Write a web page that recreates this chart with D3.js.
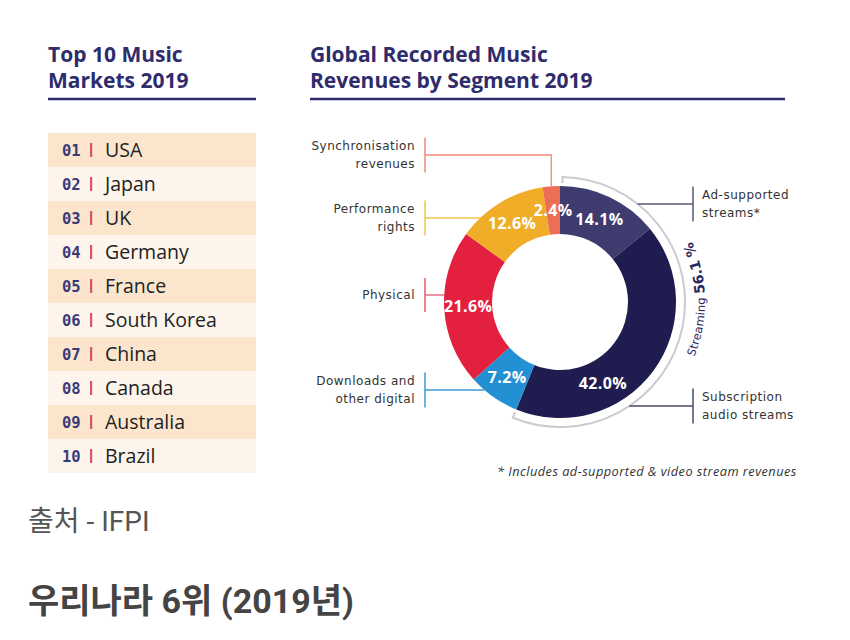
<!DOCTYPE html>
<html>
<head>
<meta charset="utf-8">
<script src="https://cdn.jsdelivr.net/npm/d3@7/dist/d3.min.js"></script>
<style>
  html, body { margin: 0; padding: 0; background: #fff; }
  svg { display: block; }
</style>
</head>
<body>
<svg id="chart" width="850" height="640"></svg>
<script>
// ---------------- DATA ----------------
const leftTitle = ["Top 10 Music", "Markets 2019"];
const rightTitle = ["Global Recorded Music", "Revenues by Segment 2019"];
const ranks = ["01", "02", "03", "04", "05", "06", "07", "08", "09", "10"];
const countries = ["USA", "Japan", "UK", "Germany", "France", "South Korea", "China", "Canada", "Australia", "Brazil"];
const segments = ["Ad-supported streams*", "Subscription audio streams", "Downloads and other digital", "Physical", "Performance rights", "Synchronisation revenues"];
const segmentLines = [["Ad-supported", "streams*"], ["Subscription", "audio streams"], ["Downloads and", "other digital"], ["Physical"], ["Performance", "rights"], ["Synchronisation", "revenues"]];
const shares = [14.1, 42.0, 7.2, 21.6, 12.6, 2.4];
const streamingLabel = "Streaming";
const streamingTotal = 56.1;
const footnote = "* Includes ad-supported & video stream revenues";
const sourceText = "출처 - IFPI";
const captionText = "우리나라 6위 (2019년)";

// ---------------- STYLE / LAYOUT ----------------
const navy = "#2e2c6c";
const sliceColors = ["#3e3b6f", "#1f1c50", "#2390d4", "#e3213f", "#f0ad28", "#ec6f55"];
const leaderColors = ["#5a5878", "#4a4868", "#3a98d6", "#e05a6c", "#f2c552", "#ef8a75"];
const svg = d3.select("#chart");

// Titles
function title(lines, x, x2) {
  const t = svg.append("text").attr("x", x).attr("y", 62)
    .attr("font-family", "'Open Sans', sans-serif").attr("font-weight", 700)
    .attr("font-size", 21).attr("fill", navy);
  lines.forEach((l, i) => t.append("tspan").attr("x", x).attr("y", 62 + i * 26).text(l));
  svg.append("line").attr("x1", x).attr("x2", x2).attr("y1", 99).attr("y2", 99)
    .attr("stroke", navy).attr("stroke-width", 2.5);
}
title(leftTitle, 48, 256);
title(rightTitle, 310, 785);

// ---------------- TABLE ----------------
const rowY = d3.scaleBand().domain(ranks).range([133, 473]);
const rows = svg.append("g").selectAll("g").data(ranks).join("g")
  .attr("transform", d => `translate(0,${rowY(d)})`);
rows.append("rect").attr("x", 48).attr("width", 208).attr("height", rowY.bandwidth())
  .attr("fill", (d, i) => i % 2 === 0 ? "#fbe6cd" : "#fdf5eb");
rows.append("text").attr("x", 62).attr("y", rowY.bandwidth() / 2 + 5.5)
  .attr("font-family", "'DejaVu Sans Mono', monospace").attr("font-weight", 700)
  .attr("font-size", 15.5).attr("fill", "#3b3a78").text(d => d);
rows.append("rect").attr("x", 90).attr("width", 2.2).attr("y", rowY.bandwidth() / 2 - 7)
  .attr("height", 14).attr("fill", "#d5566a");
rows.append("text").attr("x", 105).attr("y", rowY.bandwidth() / 2 + 7)
  .attr("font-family", "'Open Sans', sans-serif").attr("font-size", 19.5)
  .attr("fill", "#222").text((d, i) => countries[i]);

// ---------------- DONUT ----------------
const cx = 560, cy = 302, R = 116, r0 = 68;
const g = svg.append("g").attr("transform", `translate(${cx},${cy})`);
const pie = d3.pie().sort(null).value(d => d).startAngle(0).endAngle(2 * Math.PI);
const arcs = pie(shares);
const arc = d3.arc().innerRadius(r0).outerRadius(R);
g.selectAll("path.slice").data(arcs).join("path").attr("class", "slice")
  .attr("d", arc).attr("fill", (d, i) => sliceColors[i]);

// percent labels
const labelFrac = [0.5, 0.67, 0.5, 0.5, 0.5, 0.5];
const rMid = (R + r0) / 2;
g.selectAll("text.pct").data(arcs).join("text").attr("class", "pct")
  .attr("x", (d, i) => rMid * Math.sin(d.startAngle + (d.endAngle - d.startAngle) * labelFrac[i]))
  .attr("y", (d, i) => -rMid * Math.cos(d.startAngle + (d.endAngle - d.startAngle) * labelFrac[i]))
  .attr("dy", "0.35em").attr("text-anchor", "middle")
  .attr("font-family", "'Open Sans', sans-serif").attr("font-weight", 700)
  .attr("font-size", 16).attr("letter-spacing", 0.4).attr("fill", "#fff")
  .text((d, i) => d3.format(".1f")(shares[i]) + "%");

// streaming bracket arc
const rG = 125;
const a0 = arcs[0].startAngle + 0.02, a1 = arcs[1].endAngle;
const pt = (rad, a) => [rad * Math.sin(a), -rad * Math.cos(a)];
const bp = d3.path();
bp.moveTo(...pt(rG - 6, a0));
bp.lineTo(...pt(rG, a0));
bp.arc(0, 0, rG, a0 - Math.PI / 2, a1 - Math.PI / 2, false);
bp.lineTo(...pt(rG - 6, a1));
g.append("path").attr("d", bp.toString()).attr("fill", "none")
  .attr("stroke", "#cbcbd0").attr("stroke-width", 2);

// streaming text along arc (reads bottom to top)
const rT = 145;
const tp = d3.path();
tp.moveTo(...pt(rT, Math.PI / 2 + 1.0));
tp.arc(0, 0, rT, Math.PI / 2 + 1.0 - Math.PI / 2, Math.PI / 2 - 1.0 - Math.PI / 2, true);
g.append("path").attr("id", "streamPath").attr("d", tp.toString()).attr("fill", "none");
const st = g.append("text").attr("font-family", "'DejaVu Sans', sans-serif").attr("fill", "#2a2860");
const stp = st.append("textPath").attr("href", "#streamPath").attr("startOffset", "51%")
  .attr("text-anchor", "middle");
stp.append("tspan").attr("font-size", 11.5).attr("letter-spacing", 0.2).text(streamingLabel + " ");
stp.append("tspan").attr("font-size", 14).attr("font-weight", 700).text(d3.format(".1f")(streamingTotal) + " %");

// ---------------- LEADERS ----------------
const leaderY = [204, 406, 390, 295, 218, 155];
const side = [1, 1, -1, -1, -1, -1];
const labelFont = "'DejaVu Sans', sans-serif";
arcs.forEach((d, i) => {
  const y = leaderY[i] - cy;
  const col = leaderColors[i];
  const barX = side[i] > 0 ? 693 - cx : 425 - cx;
  let path;
  if (i === 5) {
    const mid = (d.startAngle + d.endAngle) / 2;
    const [ex, ey] = pt(R, mid);
    path = `M${barX},${y}H${ex}V${ey}`;
  } else if (side[i] > 0) {
    const ex = Math.sqrt(rG * rG - y * y);
    path = `M${barX},${y}H${ex}`;
  } else {
    const ex = -Math.sqrt(R * R - y * y);
    path = `M${barX},${y}H${ex}`;
  }
  g.append("path").attr("d", path).attr("fill", "none").attr("stroke", col).attr("stroke-width", 1.3);
  const n = segmentLines[i].length;
  const h = n === 1 ? 34 : 35;
  g.append("line").attr("x1", barX).attr("x2", barX).attr("y1", y - h / 2).attr("y2", y + h / 2)
    .attr("stroke", col).attr("stroke-width", 1.5);
  const tx = side[i] > 0 ? barX + 9 : barX - 10;
  const t = g.append("text").attr("font-family", labelFont).attr("font-size", 12)
    .attr("letter-spacing", 0.5).attr("fill", "#333")
    .attr("text-anchor", side[i] > 0 ? "start" : "end");
  segmentLines[i].forEach((l, k) => {
    t.append("tspan").attr("x", tx).attr("y", y + (k - (n - 1) / 2) * 17.5).attr("dy", "0.35em").text(l);
  });
});

// footnote
svg.append("text").attr("x", 497).attr("y", 476)
  .attr("font-family", "'Open Sans', sans-serif").attr("font-style", "italic")
  .attr("font-size", 12.8).attr("letter-spacing", 0.45).attr("fill", "#333").text(footnote);

// Korean captions
svg.append("text").attr("x", 28).attr("y", 531)
  .attr("font-family", "Roboto, 'Noto Sans CJK KR', sans-serif").attr("font-size", 28)
  .attr("fill", "#555").text(sourceText);
svg.append("text").attr("x", 28).attr("y", 613)
  .attr("font-family", "Roboto, 'Noto Sans CJK KR', sans-serif").attr("font-weight", 700)
  .attr("font-size", 34).attr("fill", "#444").text(captionText);
</script>
</body>
</html>
